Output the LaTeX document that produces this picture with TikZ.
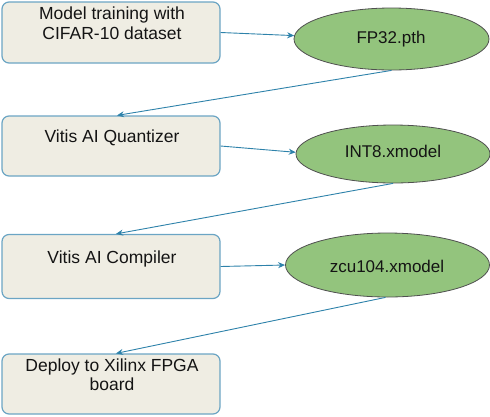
\documentclass[tikz,border=0pt]{standalone}
\usepackage{fontspec}
\setmainfont{Liberation Sans}
\usetikzlibrary{arrows.meta,calc}
\definecolor{boxfill}{HTML}{EFEDE3}
\definecolor{boxline}{HTML}{6BA5C4}
\definecolor{ellfill}{HTML}{93C47D}
\definecolor{ellline}{HTML}{505050}
\definecolor{arr}{HTML}{2E82AA}
\tikzset{
  stepbox/.style={draw=boxline, fill=boxfill, line width=1.2pt, rounded corners=7pt,
    minimum width=218pt, minimum height=61pt, inner sep=0pt},
  fileell/.style={draw=ellline, fill=ellfill, line width=0.8pt, ellipse, inner sep=0pt},
  lbl/.style={anchor=base, inner sep=0pt, font=\fontsize{17.5}{20}\selectfont, text=black!92},
  elbl/.style={anchor=base, inner sep=0pt, font=\fontsize{17}{20}\selectfont, text=black!92},
  flow/.style={draw=arr, line width=0.9pt, -{Stealth[length=7pt,width=6pt]}}
}
\usetikzlibrary{shapes.geometric}
\begin{document}
\begin{tikzpicture}[x=1pt,y=-1pt]
\useasboundingbox (0,0) rectangle (490,416);
% boxes
\node[stepbox, minimum height=61pt] (b1) at (111,32.5) {};
\node[stepbox, minimum height=60pt] (b2) at (111,146) {};
\node[stepbox, minimum height=64pt] (b3) at (111,266.5) {};
\node[stepbox, minimum height=60pt] (b4) at (111,384) {};
% ellipses
\node[fileell, minimum width=195pt, minimum height=62pt] (e1) at (391.5,39) {};
\node[fileell, minimum width=194pt, minimum height=58pt] (e2) at (393,154) {};
\node[fileell, minimum width=204pt, minimum height=64pt] (e3) at (387.5,265) {};
% labels
\node[lbl] (t1a) at (112,19.5) {Model training with};
\node[lbl] (t1b) at (112,39.5) {CIFAR-10 dataset};
\node[lbl] (t2) at (112,142.5) {Vitis AI Quantizer};
\node[lbl] (t3) at (112,263.5) {Vitis AI Compiler};
\node[lbl] (t4a) at (112,371) {Deploy to Xilinx FPGA};
\node[lbl] (t4b) at (112,390) {board};
\node[elbl] (f1) at (391,43) {FP32.pth};
\node[elbl] (f2) at (393,157.5) {INT8.xmodel};
\node[elbl] (f3) at (387,272) {zcu104.xmodel};
% connectors
\draw[flow] (b1.east) -- (e1.178);
\draw[flow] (e1.south) -- ($(b2.north)+(6,0)$);
\draw[flow] (b2.east) -- (e2.179);
\draw[flow] (e2.south) -- ($(b3.north)+(5,0)$);
\draw[flow] (b3.east) -- (e3.west);
\draw[flow] ($(e3.south)+(-2,0)$) -- ($(b4.north)+(5,0)$);
\end{tikzpicture}
\end{document}
